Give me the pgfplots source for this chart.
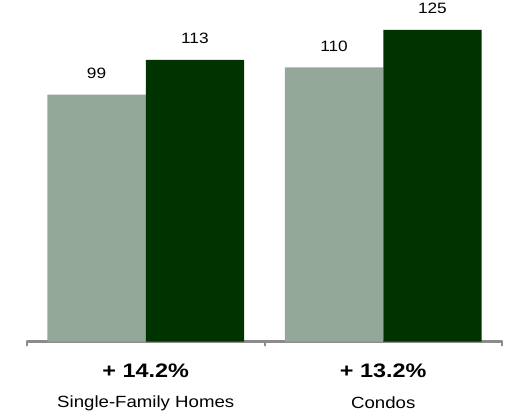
\documentclass[border=0pt]{standalone}
\usepackage{fontspec}
\setmainfont{Liberation Sans}
\newfontfamily\lab[FakeStretch=1.15]{Liberation Sans}
\newfontfamily\labb[FakeStretch=1.2]{Liberation Sans}
\usepackage{pgfplots}
\pgfplotsset{compat=1.18}
\definecolor{lightbar}{RGB}{147,168,152}
\definecolor{darkbar}{RGB}{1,51,1}
\definecolor{axgray}{RGB}{140,140,140}
\begin{document}
\begin{tikzpicture}
\path[use as bounding box] (0,0) rectangle (506bp,415bp);
\begin{axis}[
  at={(27bp,73.5bp)}, anchor=south west,
  scale only axis, width=475bp, height=341.5bp,
  xmin=-0.5, xmax=1.5, ymin=0, ymax=137,
  ybar, bar width=0.414, 
  axis y line=none,
  axis x line*=bottom,
  x axis line style={-, axgray, line width=2bp, line cap=round},
  xtick={-0.5,0.5,1.5}, xticklabels={},
  tick align=outside, major tick length=4bp,
  x tick style={axgray, line width=2bp, line cap=round},
  clip=false,
  /pgf/number format/assume math mode=true,
  nodes near coords,
  every node near coord/.append style={font=\lab\fontsize{15bp}{17bp}\selectfont, anchor=base, yshift=16bp, inner sep=0pt, text=black},
]
\addplot[fill=lightbar, draw=none, bar shift=0pt] coordinates {(-0.207,99) (0.793,110)};
\addplot[fill=darkbar, draw=none, bar shift=0pt] coordinates {(0.207,113) (1.207,125)};
\node[font=\labb\bfseries\fontsize{19.5bp}{21bp}\selectfont, anchor=center] at (axis cs:0,0) [yshift=-29.5bp] {+ 14.2\%};
\node[font=\labb\bfseries\fontsize{19.5bp}{21bp}\selectfont, anchor=center] at (axis cs:1,0) [yshift=-29.5bp] {+ 13.2\%};
\node[font=\lab\fontsize{16.2bp}{18bp}\selectfont, anchor=center] at (axis cs:0,0) [yshift=-61.5bp] {Single-Family Homes};
\node[font=\lab\fontsize{16.2bp}{18bp}\selectfont, anchor=center] at (axis cs:1,0) [yshift=-61.5bp] {Condos};
\end{axis}
\end{tikzpicture}
\end{document}
